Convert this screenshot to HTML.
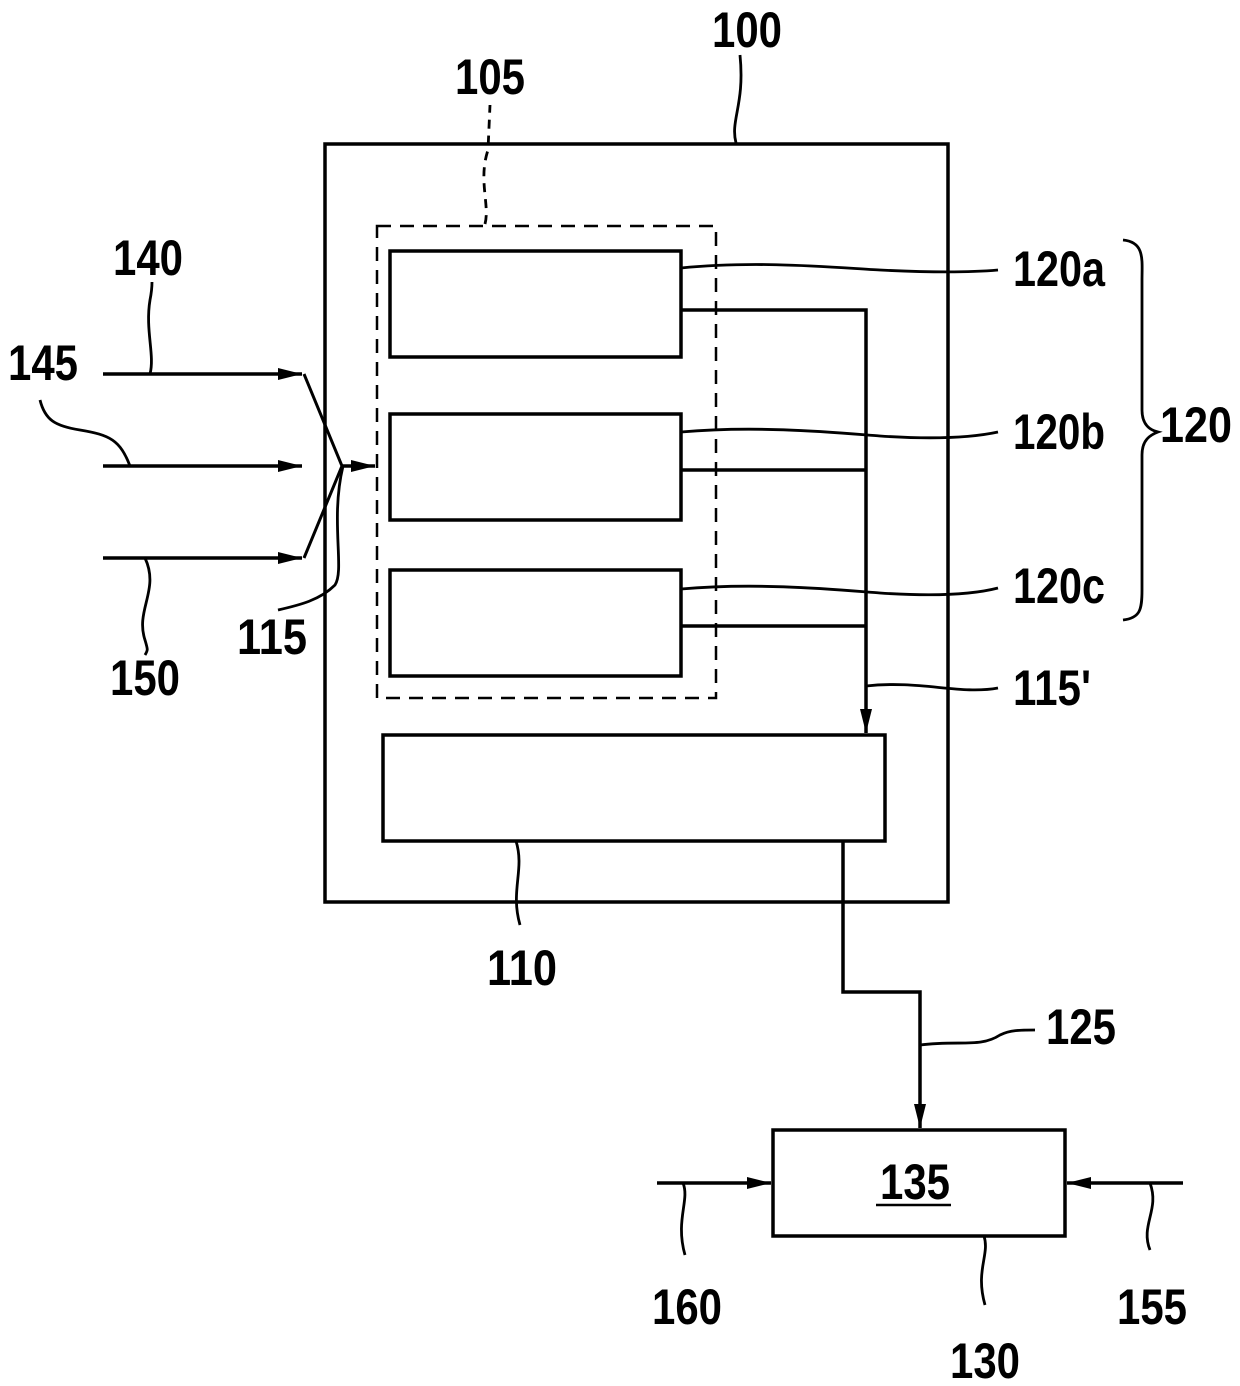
<!DOCTYPE html>
<html><head><meta charset="utf-8"><style>
html,body{margin:0;padding:0;background:#fff;}
svg{display:block;}
text{font-family:"Liberation Sans",sans-serif;font-weight:bold;font-size:50px;fill:#000;}
</style></head><body>
<svg width="1240" height="1386" viewBox="0 0 1240 1386" xmlns="http://www.w3.org/2000/svg">
<defs>
<marker id="b" markerWidth="24" markerHeight="14" refX="24" refY="7" orient="auto" markerUnits="userSpaceOnUse">
<path d="M0,1 L24,7 L0,13 Z" fill="#000"/></marker>
</defs>
<g fill="none" stroke="#000" stroke-width="3.5">
<rect x="325" y="144" width="623" height="758"/>
<rect x="377" y="226" width="339" height="472" stroke-dasharray="14,9" stroke-width="2.5"/>
<rect x="390" y="251" width="291" height="106"/>
<rect x="390" y="414" width="291" height="106"/>
<rect x="390" y="570" width="291" height="106"/>
<rect x="383" y="735" width="502" height="106"/>
<rect x="773" y="1130" width="292" height="106"/>
<polyline points="681,310 866,310 866,733" marker-end="url(#b)"/>
<line x1="681" y1="470" x2="866" y2="470"/>
<line x1="681" y1="626" x2="866" y2="626"/>
<polyline points="843,841 843,992 920,992 920,1128" marker-end="url(#b)"/>
<line x1="657" y1="1183" x2="771" y2="1183" marker-end="url(#b)"/>
<line x1="1183" y1="1183" x2="1067" y2="1183" marker-end="url(#b)"/>
<line x1="103" y1="374" x2="302" y2="374" marker-end="url(#b)"/>
<line x1="103" y1="466" x2="302" y2="466" marker-end="url(#b)"/>
<line x1="103" y1="558" x2="302" y2="558" marker-end="url(#b)"/>
<polyline points="304,374 342,466 304,558" stroke-width="3"/>
<line x1="342" y1="466" x2="375" y2="466" marker-end="url(#b)"/>
<g stroke-width="2.8">
<path d="M150,374 C155,355 145,330 150,300 C152,290 152,285 152,282"/>
<path d="M130,466 C120,440 110,435 80,430 C55,426 45,420 40,400"/>
<path d="M145,558 C160,590 135,610 145,640 C148,650 148,650 145,655"/>
<path d="M343,466 C330,520 345,570 335,585 C320,600 300,605 278,610"/>
<path d="M736,143 C730,120 745,105 740,55"/>
<path d="M485,224 C490,205 478,180 488,150 L490,105" stroke-dasharray="9,7"/>
<path d="M681,268 C760,260 840,268 880,270 C940,273 975,272 998,270"/>
<path d="M681,432 C760,425 840,433 880,436 C940,440 975,437 998,432"/>
<path d="M681,589 C760,582 840,590 880,593 C940,597 975,594 998,588"/>
<path d="M866,686 C920,680 960,695 998,688"/>
<path d="M516,841 C525,870 510,890 520,925"/>
<path d="M920,1045 C960,1040 980,1048 1000,1035 C1010,1030 1020,1030 1035,1030"/>
<path d="M683,1183 C690,1200 675,1220 685,1255"/>
<path d="M984,1236 C990,1255 975,1270 985,1305"/>
<path d="M1150,1183 C1160,1210 1140,1225 1150,1250"/>
<path d="M1123,240 C1145,242 1142,260 1142,280 L1142,410 C1142,425 1150,430 1158,432 C1150,435 1142,440 1142,455 L1142,590 C1142,610 1140,618 1123,620"/>
</g>
<line x1="876" y1="1205" x2="951" y2="1205" stroke-width="2.5"/>
</g>
<g>
<text x="712" y="47" textLength="70" lengthAdjust="spacingAndGlyphs">100</text>
<text x="455" y="94" textLength="70" lengthAdjust="spacingAndGlyphs">105</text>
<text x="113" y="275" textLength="70" lengthAdjust="spacingAndGlyphs">140</text>
<text x="8" y="380" textLength="70" lengthAdjust="spacingAndGlyphs">145</text>
<text x="110" y="695" textLength="70" lengthAdjust="spacingAndGlyphs">150</text>
<text x="237" y="654" textLength="70" lengthAdjust="spacingAndGlyphs">115</text>
<text x="1013" y="286" textLength="92" lengthAdjust="spacingAndGlyphs">120a</text>
<text x="1013" y="449" textLength="92" lengthAdjust="spacingAndGlyphs">120b</text>
<text x="1013" y="603" textLength="92" lengthAdjust="spacingAndGlyphs">120c</text>
<text x="1160" y="442" textLength="72" lengthAdjust="spacingAndGlyphs">120</text>
<text x="1013" y="705" textLength="78" lengthAdjust="spacingAndGlyphs">115'</text>
<text x="487" y="985" textLength="70" lengthAdjust="spacingAndGlyphs">110</text>
<text x="1046" y="1044" textLength="70" lengthAdjust="spacingAndGlyphs">125</text>
<text x="880" y="1199" textLength="70" lengthAdjust="spacingAndGlyphs">135</text>
<text x="652" y="1324" textLength="70" lengthAdjust="spacingAndGlyphs">160</text>
<text x="950" y="1378" textLength="70" lengthAdjust="spacingAndGlyphs">130</text>
<text x="1117" y="1324" textLength="70" lengthAdjust="spacingAndGlyphs">155</text>
</g>
</svg>
</body></html>
